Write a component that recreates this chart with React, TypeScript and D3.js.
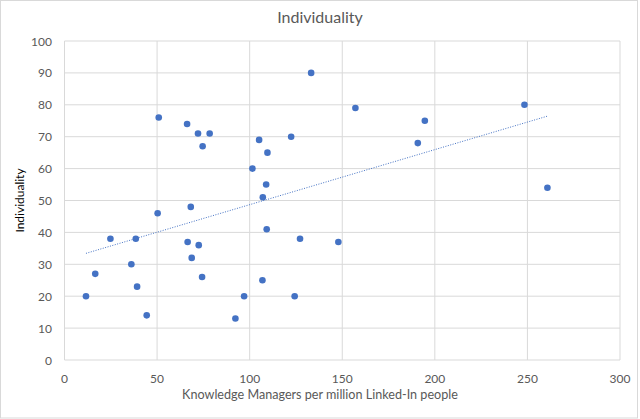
import React from 'react'
import * as d3 from 'd3'

// valores: managers por millón (x) e individualidad (y)
const managers = [
  50.9, 66.2, 72.1, 78.4, 74.6, 133.2, 105.1, 109.6, 122.4, 101.5, 108.9, 107.1, 68.2,
  50.3, 24.8, 38.5, 11.6, 16.6, 36.1, 39.2, 44.4, 66.5, 72.5, 68.7, 74.3, 92.3, 97.0,
  106.9, 109.2, 124.3, 127.2, 157.1, 194.6, 190.8, 248.4, 260.8, 147.9,
]
const individuality = [
  76, 74, 71, 71, 67, 90, 69, 65, 70, 60, 55, 51, 48,
  46, 38, 38, 20, 27, 30, 23, 14, 37, 36, 32, 26, 13, 20,
  25, 41, 20, 38, 79, 75, 68, 80, 54, 37,
]
const xTicks = [0, 50, 100, 150, 200, 250, 300]
const yTicks = [0, 10, 20, 30, 40, 50, 60, 70, 80, 90, 100]

const width = 640
const height = 419
const margin = { top: 41, right: 20, bottom: 59, left: 64.5 }
const font = 'Lato, "Open Sans", sans-serif'
const grey = '#595959'
const blue = '#4472c4'

export default function App() {
  const points = managers.map((x, i) => ({ x, y: individuality[i] }))

  const x = d3.scaleLinear().domain([0, 300]).range([margin.left, width - margin.right])
  const y = d3.scaleLinear().domain([0, 100]).range([height - margin.bottom, margin.top])

  // recta de tendencia lineal (mínimos cuadrados)
  const mx = d3.mean(points, d => d.x) as number
  const my = d3.mean(points, d => d.y) as number
  const sxy = d3.sum(points, d => (d.x - mx) * (d.y - my))
  const sxx = d3.sum(points, d => (d.x - mx) ** 2)
  const slope = sxy / sxx
  const icpt = my - slope * mx
  const [x0, x1] = d3.extent(managers) as [number, number]
  const trend = d3.line<number>().x(v => x(v)).y(v => y(icpt + slope * v))([x0, x1])

  return (
    <svg width={width} height={height} style={{ position: 'absolute', left: 0, top: 0, background: '#fff' }}>
      <rect x={0.5} y={0.5} width={width - 3} height={height - 1.5} fill="#fff" stroke="#d9d9d9" />
      <text x={320} y={22.5} textAnchor="middle" fontFamily={font} fontSize={16} fill={grey}>Individuality</text>

      {yTicks.map(t => (
        <g key={'y' + t}>
          <line x1={x(0)} x2={x(300)} y1={y(t)} y2={y(t)} stroke="#d9d9d9" />
          <text x={52} y={y(t) + 4.5} textAnchor="end" fontFamily={font} fontSize={12} fill={grey}>{t}</text>
        </g>
      ))}
      {xTicks.map(t => (
        <g key={'x' + t}>
          <line x1={x(t)} x2={x(t)} y1={y(0)} y2={y(100)} stroke="#d9d9d9" />
          <text x={x(t)} y={383} textAnchor="middle" fontFamily={font} fontSize={12} fill={grey}>{t}</text>
        </g>
      ))}

      <path d={trend ?? ''} fill="none" stroke={blue} strokeWidth={1} strokeDasharray="1,1.5" />

      {points.map((d, i) => (
        <circle key={i} cx={x(d.x)} cy={y(d.y)} r={3.3} fill={blue} />
      ))}

      <text x={320} y={399} textAnchor="middle" fontFamily={font} fontSize={12.6} fill={grey}>
        Knowledge Managers per million Linked-In people
      </text>
      <text transform={`translate(24,${(y(0) + y(100)) / 2}) rotate(-90)`} textAnchor="middle"
        fontFamily={font} fontSize={12} fill="#000">Individuality</text>
    </svg>
  )
}
